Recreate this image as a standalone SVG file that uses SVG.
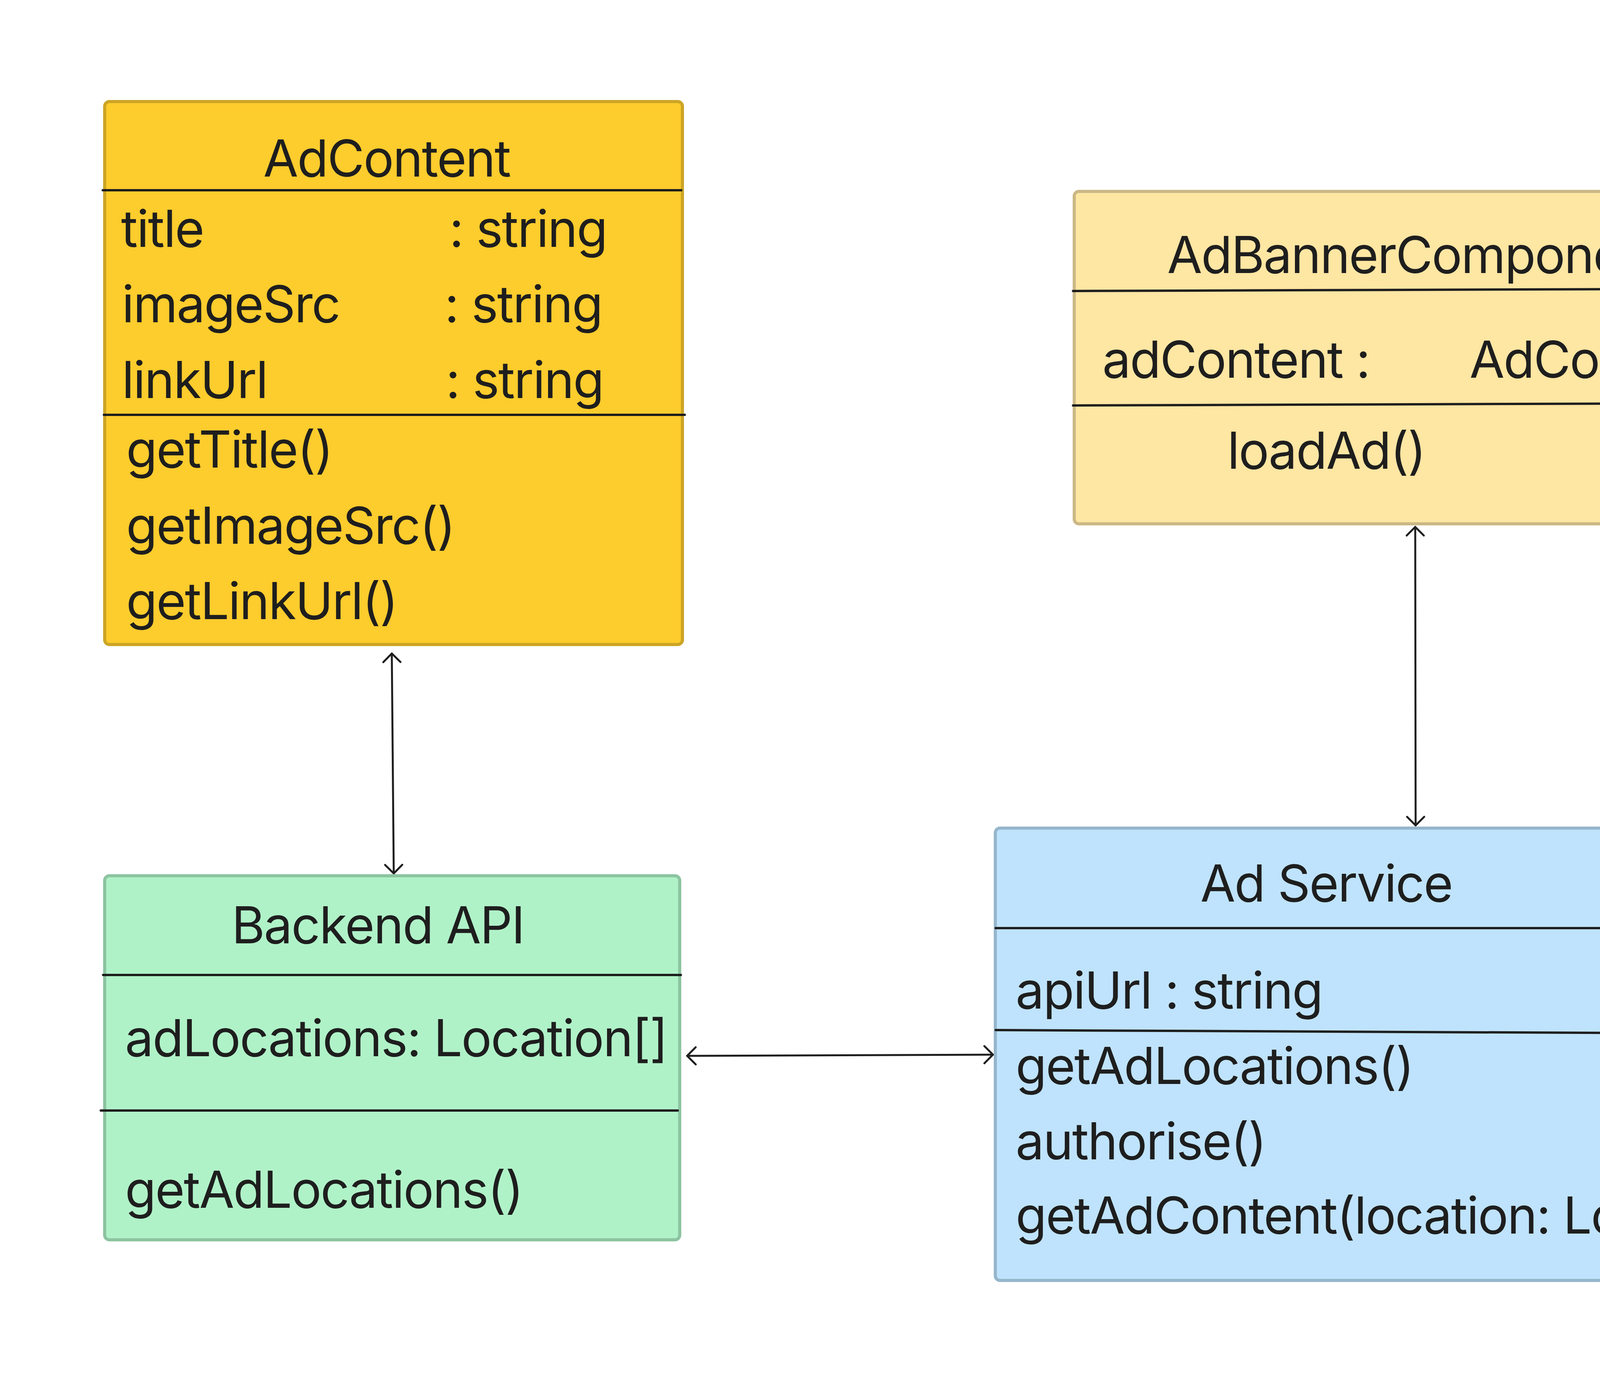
<svg xmlns="http://www.w3.org/2000/svg" width="4951" height="3538" viewBox="0 0 4951 3538">
<style>
.box{stroke-width:8}
.sep{stroke:#1E1E1E;stroke-width:6;stroke-linecap:round;fill:none}
.t{font-family:Inter,"Liberation Sans",sans-serif;font-size:130px;letter-spacing:-2.6px;fill:#1E1E1E}
.conn{stroke:#1E1E1E;stroke-width:5;fill:none;stroke-linecap:round}
</style>
<defs>
<marker id="arr" markerUnits="userSpaceOnUse" orient="auto-start-reverse" refX="0" refY="0" markerWidth="60" markerHeight="60" viewBox="-30 -30 60 60" overflow="visible">
<path d="M -22 -22 L 0 0 L -22 22" fill="none" stroke="#1E1E1E" stroke-width="5" stroke-linecap="round" stroke-linejoin="round"/>
</marker>
</defs>
<rect width="4951" height="3538" fill="#FFFFFF"/>
<g id="connectors">
<line class="conn" x1="1003" y1="1673" x2="1008" y2="2236" marker-start="url(#arr)" marker-end="url(#arr)"/>
<line class="conn" x1="1759" y1="2703" x2="2542" y2="2700" marker-start="url(#arr)" marker-end="url(#arr)"/>
<line class="conn" x1="3623" y1="1349" x2="3624" y2="2113" marker-start="url(#arr)" marker-end="url(#arr)"/>
</g>
<g id="AdContent">
<rect class="box" x="268" y="260" width="1479" height="1390" rx="12" fill="#FDCC2D" stroke="#CCA525"/>
<line class="sep" x1="263" y1="487" x2="1744" y2="487"/>
<line class="sep" x1="266" y1="1062" x2="1753" y2="1062"/>
<text class="t" x="674" y="452">AdContent</text>
<text class="t" x="310" y="632">title</text>
<text class="t" x="1150" y="632">: string</text>
<text class="t" x="312" y="825">imageSrc</text>
<text class="t" x="1138" y="825">: string</text>
<text class="t" x="312" y="1019">linkUrl</text>
<text class="t" x="1141" y="1019">: string</text>
<text class="t" x="323" y="1197">getTitle()</text>
<text class="t" x="323" y="1392">getImageSrc()</text>
<text class="t" x="323" y="1585">getLinkUrl()</text>
</g>
<g id="AdBannerComponent">
<rect class="box" x="2750" y="490" width="1740" height="851" rx="12" fill="#FEE6A3" stroke="#CCB886"/>
<line class="sep" x1="2747" y1="745" x2="4488" y2="739"/>
<line class="sep" x1="2747" y1="1038" x2="4488" y2="1032"/>
<text class="t" x="2988" y="699">AdBannerComponent</text>
<text class="t" x="2822" y="967">adContent :</text>
<text class="t" x="3762" y="967">AdContent</text>
<text class="t" x="3142" y="1200">loadAd()</text>
</g>
<g id="BackendAPI">
<rect class="box" x="268" y="2242" width="1472" height="932" rx="12" fill="#B0F2C8" stroke="#8CC4A0"/>
<line class="sep" x1="264" y1="2496" x2="1743" y2="2496"/>
<line class="sep" x1="258" y1="2843" x2="1735" y2="2843"/>
<text class="t" x="593" y="2415">Backend API</text>
<text class="t" x="320" y="2704">adLocations: Location[]</text>
<text class="t" x="320" y="3092">getAdLocations()</text>
</g>
<g id="AdService">
<rect class="box" x="2548" y="2120" width="2142" height="1158" rx="12" fill="#BFE3FC" stroke="#96B6CC"/>
<line class="sep" x1="2549" y1="2376" x2="4706" y2="2376"/>
<line class="sep" x1="2549" y1="2637" x2="4696" y2="2647"/>
<text class="t" x="3073" y="2308">Ad Service</text>
<text class="t" x="2600" y="2582">apiUrl : string</text>
<text class="t" x="2600" y="2775">getAdLocations()</text>
<text class="t" x="2600" y="2968">authorise()</text>
<text class="t" x="2600" y="3158">getAdContent(location: Location)</text>
</g>
</svg>
